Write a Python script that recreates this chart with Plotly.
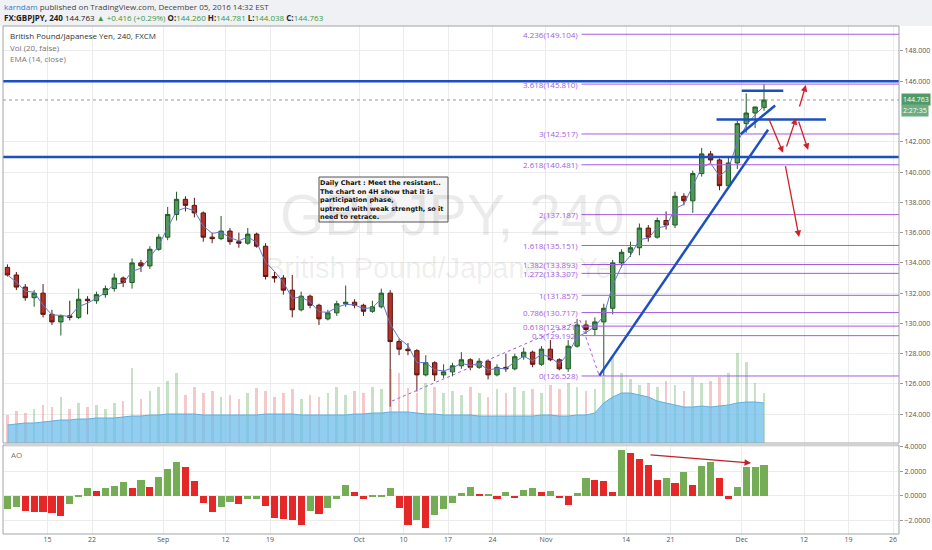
import pandas as pd
import plotly.graph_objects as go

# GBPJPY, one bar per trading day
days = pd.bdate_range("2016-08-08", "2016-12-05") + pd.Timedelta(hours=12)

opens = [133.7, 133.2, 132.4, 131.7, 132.0, 130.6, 130.1, 130.5, 130.4, 131.6,
         131.5, 131.9, 132.3, 133.0, 132.7, 134.0, 133.8, 134.9, 135.7, 137.2,
         138.2, 137.8, 137.3, 135.7, 135.6, 136.1, 135.4, 135.3, 135.9, 135.1,
         133.1, 133.0, 132.2, 130.9, 131.8, 131.2, 130.3, 130.7, 131.3, 131.4,
         131.2, 130.8, 131.1, 132.0, 128.8, 128.3, 128.2, 126.6, 127.4, 126.6,
         126.8, 127.2, 127.6, 127.1, 127.5, 126.6, 127.1, 127.0, 127.8, 128.1,
         127.3, 128.3, 127.6, 127.0, 128.5, 129.9, 129.6, 130.1, 131.0, 134.0,
         134.7, 135.0, 136.3, 135.7, 136.8, 136.5, 138.4, 138.1, 139.9, 141.2,
         140.8, 139.1, 140.6, 143.2, 143.9, 144.26]
highs = [133.9, 133.4, 132.6, 132.2, 132.6, 130.9, 130.6, 131.5, 132.3, 131.8,
         132.1, 132.5, 133.3, 133.1, 134.3, 134.2, 135.1, 135.9, 137.7, 138.7,
         138.4, 138.3, 137.4, 136.0, 137.1, 136.3, 136.0, 136.3, 136.0, 135.3,
         133.4, 133.2, 133.2, 132.1, 131.9, 131.3, 130.9, 131.5, 132.5, 131.6,
         131.3, 131.5, 132.3, 132.2, 129.0, 128.7, 128.3, 127.9, 127.5, 127.3,
         127.4, 128.1, 127.7, 127.7, 127.6, 127.3, 128.0, 128.0, 128.4, 128.2,
         128.5, 128.9, 127.7, 128.9, 130.3, 130.2, 130.4, 131.3, 134.2, 134.9,
         135.4, 136.6, 136.5, 137.0, 137.4, 138.7, 138.6, 140.1, 141.6, 141.4,
         140.9, 141.0, 143.4, 145.2, 144.3, 145.8]
lows = [133.1, 132.2, 131.5, 131.1, 130.4, 129.9, 129.2, 130.2, 130.3, 130.6,
        131.3, 131.7, 132.1, 132.4, 132.3, 133.4, 133.6, 134.8, 135.5, 136.8,
        137.4, 137.0, 135.4, 135.3, 135.5, 135.2, 135.0, 135.2, 135.0, 132.9,
        132.7, 131.9, 130.4, 130.8, 131.0, 129.9, 130.2, 130.5, 131.1, 131.0,
        130.5, 130.7, 131.0, 124.5, 127.9, 127.9, 125.5, 126.5, 126.2, 126.4,
        126.5, 127.0, 126.9, 127.0, 126.3, 126.5, 126.8, 126.9, 127.6, 127.1,
        127.2, 127.5, 126.9, 126.8, 128.4, 129.3, 129.2, 126.53, 130.6, 133.7,
        134.4, 134.5, 135.4, 135.6, 136.2, 136.3, 137.8, 137.3, 139.7, 140.6,
        138.8, 139.0, 140.2, 142.6, 142.9, 144.04]
closes = [133.2, 132.4, 131.7, 132.0, 130.6, 130.1, 130.5, 130.4, 131.6, 131.5,
          131.9, 132.3, 133.0, 132.7, 134.0, 133.8, 134.9, 135.7, 137.2, 138.2,
          137.8, 137.3, 135.7, 135.6, 136.1, 135.4, 135.3, 135.9, 135.1, 133.1,
          133.0, 132.2, 130.9, 131.8, 131.2, 130.3, 130.7, 131.3, 131.4, 131.2,
          130.8, 131.1, 132.0, 128.8, 128.3, 128.2, 126.6, 127.4, 126.6, 126.8,
          127.2, 127.6, 127.1, 127.5, 126.6, 127.1, 127.0, 127.8, 128.1, 127.3,
          128.3, 127.6, 127.0, 128.5, 129.9, 129.6, 130.1, 131.0, 134.0, 134.7,
          135.0, 136.3, 135.7, 136.8, 136.5, 138.4, 138.1, 139.9, 141.2, 140.8,
          139.1, 140.6, 143.2, 143.9, 144.3, 144.763]
volume = [28, 32, 30, 34, 38, 36, 46, 34, 40, 36,
          38, 34, 40, 42, 75, 44, 52, 56, 62, 70,
          48, 56, 50, 52, 46, 48, 44, 50, 55, 52,
          46, 50, 54, 44, 48, 46, 50, 56, 48, 52,
          50, 56, 54, 74, 70, 55, 50, 60, 56, 50,
          52, 48, 56, 50, 46, 54, 50, 56, 52, 54,
          50, 58, 54, 60, 56, 52, 54, 66, 86, 70,
          64, 58, 60, 56, 62, 58, 52, 66, 60, 62,
          66, 70, 90, 81, 60, 50]
vol_ma = [18, 19, 20, 20, 21, 22, 23, 23, 24, 24,
          25, 25, 25, 26, 27, 27, 28, 28, 29, 29,
          29, 29, 28, 28, 28, 28, 28, 28, 28, 29,
          29, 29, 29, 28, 28, 28, 28, 28, 28, 29,
          29, 30, 30, 31, 31, 31, 30, 29, 29, 28,
          28, 28, 28, 27, 27, 27, 27, 27, 27, 27,
          28, 28, 27, 27, 28, 28, 30, 40, 46, 50,
          50, 48, 46, 42, 40, 38, 36, 36, 37, 36,
          37, 38, 40, 41, 41, 40]
ao = [-1.1, -0.9, -1.2, -1.3, -1.35, -1.4, -1.65, -0.7, -0.1, 0.6,
      0.35, 0.6, 0.8, 1.1, 0.6, 1.3, 0.7, 1.5, 2.2, 2.7,
      2.3, 1.2, -0.6, -1.3, -0.9, -0.5, -0.7, -0.3, -0.3, -0.8,
      -1.8, -1.9, -2.0, -2.4, -1.2, -1.5, -1.0, -0.3, 0.85, 0.3,
      -0.3, -0.1, -0.1, 0.6, -1.0, -2.4, -2.0, -2.65, -1.6, -1.1,
      -0.6, 0.2, 0.7, 0.1, 0.15, -0.3, 0.3, -0.2, 0.5, 0.65,
      0.3, 0.4, -0.2, -0.75, 0.2, 1.4, 1.3, 1.2, 0.3, 3.7,
      3.5, 3.0, 2.5, 1.3, 1.4, 1.0, 1.9, 0.9, 2.4, 2.7,
      1.4, -0.3, 0.7, 2.3, 2.3, 2.45]

x_ticks = ["2016-08-15", "2016-08-22", "2016-09-01", "2016-09-12", "2016-09-19",
           "2016-10-03", "2016-10-10", "2016-10-17", "2016-10-24", "2016-11-01",
           "2016-11-14", "2016-11-21", "2016-12-01", "2016-12-12", "2016-12-19",
           "2016-12-26"]
x_labels = ["15", "22", "Sep", "12", "19", "Oct", "10", "17", "24", "Nov",
            "14", "21", "Dec", "12", "19", "26"]
price_ticks = [124, 126, 128, 130, 132, 134, 136, 138, 140, 142, 146, 148]
ao_ticks = [-2, 0, 2, 4]

# trend-based fib extension
fib_ratios = [0, 0.5, 0.618, 0.786, 1, 1.272, 1.382, 1.618, 2, 2.618, 3, 3.618, 4.236]
fib_prices = [126.528, 129.192, 129.821, 130.717, 131.857, 133.307, 133.893,
              135.151, 137.187, 140.481, 142.517, 145.810, 149.104]
fib_start = "2016-11-07 00:00"
fib_pts_x = ["2016-10-06 17:00", "2016-11-04 20:00", "2016-11-09 00:00"]
fib_pts_y = [124.871, 130.2, 126.528]

# blue drawings
hlines = [146.0, 141.0]
segments = [
    ("2016-11-09 00:00", 126.55, "2016-12-05 23:00", 142.8),
    ("2016-11-30 21:00", 142.5, "2016-12-06 18:00", 144.4),
    ("2016-12-01 00:00", 145.37, "2016-12-07 16:00", 145.37),
    ("2016-11-28 04:00", 143.48, "2016-12-14 11:00", 143.48),
]
# red arrows: tail -> head
arrows = [
    ("2016-12-05 23:00", 143.64, "2016-12-07 15:30", 141.28),
    ("2016-12-07 23:30", 141.59, "2016-12-09 02:30", 143.57),
    ("2016-12-09 08:00", 143.44, "2016-12-12 11:00", 141.46),
    ("2016-12-09 10:30", 144.23, "2016-12-12 05:00", 145.75),
    ("2016-12-07 21:00", 140.49, "2016-12-09 10:30", 135.71),
]
ao_arrow = ("2016-11-16 14:00", 3.32, "2016-12-02 01:00", 2.65)

last_price = 144.763
note = ["Daily Chart : Meet the resistant..", "The chart on 4H show that it is",
        "participation phase,", "uptrend with weak strength, so it", "need to retrace."]

X0, X1 = "2016-08-08 00:00", "2016-12-26 16:00"
DAY = 86400000


def px(x):
    return (x - 3) / 896


def py(y):
    return (534 - y) / 508


ema = pd.Series(closes).ewm(alpha=0.58, adjust=False).mean()
vol_col = ["rgba(95,170,95,0.35)" if c >= o else "rgba(220,100,100,0.35)"
           for o, c in zip(opens, closes)]
ao_col = ["#74ad55" if i == 0 or v >= ao[i - 1] else "#e52727" for i, v in enumerate(ao)]

fig = go.Figure()
fig.add_trace(go.Bar(x=days, y=volume, yaxis="y2", width=0.3 * DAY,
                     marker=dict(color=vol_col, line_width=0)))
fig.add_trace(go.Scatter(x=days, y=vol_ma, yaxis="y2", mode="lines", fill="tozeroy",
                         line=dict(color="#5fb0e0", width=1),
                         fillcolor="rgba(110,190,235,0.75)"))
fig.add_trace(go.Candlestick(x=days, open=opens, high=highs, low=lows, close=closes,
                             whiskerwidth=0,
                             increasing=dict(line=dict(color="#1f5a28", width=1), fillcolor="#4f9a55"),
                             decreasing=dict(line=dict(color="#5a1510", width=1), fillcolor="#b2332a")))
fig.add_trace(go.Scatter(x=days, y=ema, mode="lines", line=dict(color="#6478c8", width=1)))
fig.add_trace(go.Scatter(x=fib_pts_x, y=fib_pts_y, mode="lines",
                         line=dict(color="#a55be0", width=1, dash="dot")))
fig.add_trace(go.Bar(x=days, y=ao, yaxis="y3", width=0.8 * DAY,
                     marker=dict(color=ao_col, line_width=0)))

shapes = []
# header strip
shapes.append(dict(type="rect", xref="paper", yref="paper", x0=px(0), x1=px(932),
                   y0=1, y1=py(0), fillcolor="#eff1f4", line_width=0, layer="below"))
for p in fib_prices:
    shapes.append(dict(type="line", xref="x", yref="y", x0=fib_start, x1=X1, y0=p, y1=p,
                       line=dict(color="#a55be0", width=1)))
shapes.append(dict(type="line", xref="paper", yref="y", x0=0, x1=1, y0=last_price, y1=last_price,
                   line=dict(color="#9a9a9a", width=1, dash="dot")))
for h in hlines:
    shapes.append(dict(type="line", xref="paper", yref="y", x0=0, x1=1, y0=h, y1=h,
                       line=dict(color="#1c4fc0", width=2.5)))
for x0, y0, x1, y1 in segments:
    shapes.append(dict(type="line", xref="x", yref="y", x0=x0, y0=y0, x1=x1, y1=y1,
                       line=dict(color="#1c4fc0", width=2.5)))
# note box
shapes.append(dict(type="rect", xref="paper", yref="paper", x0=px(319), x1=px(448),
                   y0=py(222), y1=py(177), fillcolor="#f5f5f5", line=dict(color="#555", width=1)))
# pane borders
shapes.append(dict(type="rect", xref="paper", yref="paper", x0=0, x1=1, y0=py(443), y1=1,
                   line=dict(color="#a0a4a8", width=1)))
shapes.append(dict(type="rect", xref="paper", yref="paper", x0=0, x1=1, y0=0, y1=py(445),
                   line=dict(color="#a0a4a8", width=1)))

green = "#3c9a3c"
ann = [
    dict(x=px(2), y=py(6), text='<span style="color:#2e7bcf">karndam</span> published on TradingView.com, December 05, 2016 14:32 EST',
         font=dict(size=8, color="#444")),
    dict(x=px(2), y=py(18),
         text=f'<b>FX:GBPJPY, 240</b> 144.763 <span style="color:{green}">▲ +0.416 (+0.29%)</span> '
              f'<b>O:</b><span style="color:{green}">144.260</span> <b>H:</b><span style="color:{green}">144.781</span> '
              f'<b>L:</b><span style="color:{green}">144.038</span> <b>C:</b><span style="color:{green}">144.763</span>',
         font=dict(size=8, color="#222")),
    dict(x=px(8), y=py(36), text="British Pound/Japanese Yen, 240, FXCM", font=dict(size=8, color="#333")),
    dict(x=px(8), y=py(47), text="Vol (20, false)", font=dict(size=8, color="#777")),
    dict(x=px(8), y=py(58), text="EMA (14, close)", font=dict(size=8, color="#777")),
    dict(x=px(9), y=py(454), text="AO", font=dict(size=8, color="#777")),
]
for a in ann:
    a.update(xref="paper", yref="paper", xanchor="left", yanchor="middle", showarrow=False)
    a["font"]["family"] = "Open Sans"

# watermark
ann.append(dict(xref="paper", yref="paper", x=px(452), y=py(215), text="GBPJPY, 240", showarrow=False,
                font=dict(family="Liberation Sans", size=57, color="rgba(0,0,0,0.08)")))
ann.append(dict(xref="paper", yref="paper", x=px(446), y=py(268), text="British Pound/Japanese Yen",
                showarrow=False, font=dict(family="Liberation Sans", size=29, color="rgba(0,0,0,0.08)")))

# note text
for i, line in enumerate(note):
    ann.append(dict(xref="paper", yref="paper", x=px(321), y=py(183.3 + 8.4 * i), text=f"<b>{line}</b>",
                    xanchor="left", yanchor="middle", xshift=-3, showarrow=False,
                    font=dict(family="DejaVu Sans", size=6.5, color="#111")))

for r, p in zip(fib_ratios, fib_prices):
    ann.append(dict(x=fib_start, y=p, xref="x", yref="y", text=f"{r:g}({p:.3f})", xanchor="right",
                    xshift=-2, yanchor="middle", showarrow=False,
                    font=dict(family="Open Sans", size=8, color="#a55be0")))

for x0, y0, x1, y1 in arrows:
    ann.append(dict(x=x1, y=y1, ax=x0, ay=y0, xref="x", yref="y", axref="x", ayref="y", text="",
                    showarrow=True, arrowhead=2, arrowsize=1, arrowwidth=1.3, arrowcolor="#d0202a"))
x0, y0, x1, y1 = ao_arrow
ann.append(dict(x=x1, y=y1, ax=x0, ay=y0, xref="x", yref="y3", axref="x", ayref="y3", text="",
                showarrow=True, arrowhead=2, arrowsize=1, arrowwidth=1.3, arrowcolor="#c0202a"))

# last price tags
ann.append(dict(xref="paper", yref="y", x=px(901), y=last_price, text=f"{last_price:.3f}", xanchor="left",
                showarrow=False, bgcolor="#4f9a68", borderpad=1,
                font=dict(family="Open Sans", size=7, color="white")))
ann.append(dict(xref="paper", yref="y", x=px(901), y=last_price, yshift=-11, text="2:27:35", xanchor="left",
                showarrow=False, bgcolor="#6aae82", borderpad=1,
                font=dict(family="Open Sans", size=7, color="white")))

axis_font = dict(family="Open Sans", size=7, color="#555")
fig.update_layout(
    width=932, height=550,
    margin=dict(l=3, r=33, t=26, b=16),
    paper_bgcolor="white", plot_bgcolor="white",
    showlegend=False, bargap=0,
    xaxis=dict(type="date", range=[X0, X1], anchor="y3",
               rangebreaks=[dict(bounds=["sat", "mon"])], rangeslider=dict(visible=False),
               tickmode="array", tickvals=x_ticks, ticktext=x_labels, tickfont=axis_font,
               showgrid=True, gridcolor="#ececec", zeroline=False, ticks=""),
    yaxis=dict(domain=[py(443), 1], range=[122.1, 149.65], side="right",
               tickmode="array", tickvals=price_ticks, tickformat=".3f", tickfont=axis_font,
               ticks="outside", ticklen=3, tickcolor="#999",
               showgrid=True, gridcolor="#ececec", zeroline=False),
    yaxis2=dict(overlaying="y", range=[0, 417], visible=False),
    yaxis3=dict(domain=[0, py(445)], range=[-3.1, 4.11], side="right",
                tickmode="array", tickvals=ao_ticks, tickformat=".4f", tickfont=axis_font,
                ticks="outside", ticklen=3, tickcolor="#999",
                showgrid=True, gridcolor="#ececec", zeroline=False),
    shapes=shapes,
    annotations=ann,
)

# the page's default body margin would push the figure 8px off the 932x550 frame
fig.write_html("out.html", config={"displayModeBar": False},
               post_script="document.body.style.margin='0px';")
